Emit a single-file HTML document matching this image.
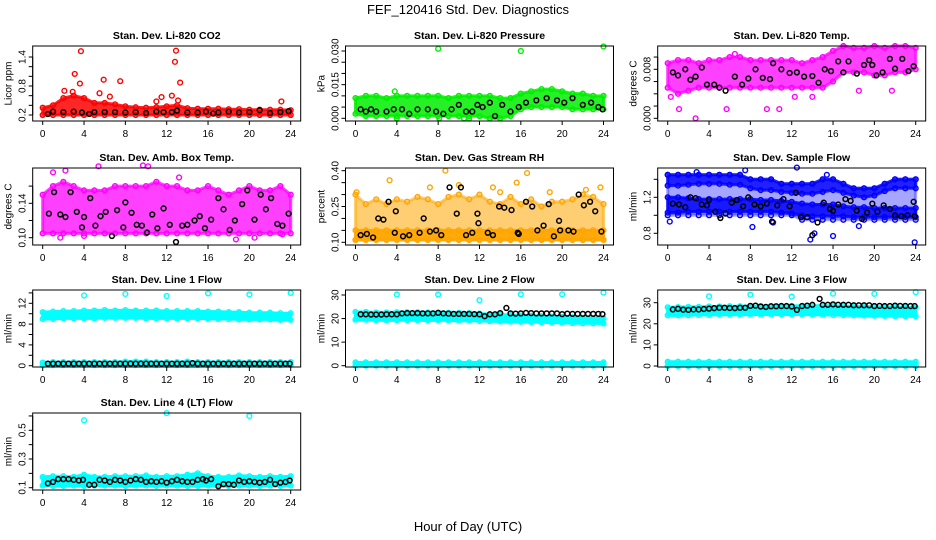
<!DOCTYPE html>
<html><head><meta charset="utf-8"><style>
html,body{margin:0;padding:0;background:#fff}
svg{display:block;font-family:"Liberation Sans",sans-serif}
</style></head><body>
<svg id="chart" width="936" height="540" viewBox="0 0 936 540" xmlns="http://www.w3.org/2000/svg">
<text x="468" y="14" text-anchor="middle" font-size="13">FEF_120416  Std. Dev. Diagnostics</text>
<text x="468" y="531" text-anchor="middle" font-size="13">Hour of Day (UTC)</text>
</svg>
<script>
const hours = [0,1,2,3,4,5,6,7,8,9,10,11,12,13,14,15,16,17,18,19,20,21,22,23,24];
const xTicks = [0,4,8,12,16,20,24];
// CO2
const co2Lo = [0.2,0.2,0.2,0.2,0.2,0.2,0.2,0.2,0.2,0.2,0.2,0.2,0.2,0.2,0.2,0.2,0.2,0.2,0.2,0.2,0.2,0.2,0.2,0.2,0.2];
const co2Hi = [0.35,0.4,0.55,0.6,0.55,0.45,0.45,0.42,0.38,0.36,0.35,0.36,0.38,0.4,0.34,0.33,0.33,0.33,0.32,0.32,0.31,0.31,0.31,0.31,0.3];
const co2OutX = [3.7,12.9,12.8,3.1,5.9,7.5,13.3,2.1,3.6,5.5,6.5,12.5,11.5,11,23.1,13.1,2.9];
const co2OutY = [1.52,1.53,1.3,1.05,0.93,0.9,0.87,0.7,0.85,0.65,0.58,0.6,0.57,0.48,0.48,0.5,0.68];
const co2BlkX = [0.5,1,2,3,3.8,4.5,5,6,7,8,9,10,11,11.7,12.5,13,14,15,15.8,16.5,17,18,19,20,21,22,23,23.8];
const co2BlkY = [0.22,0.27,0.26,0.27,0.25,0.22,0.26,0.26,0.26,0.25,0.26,0.24,0.27,0.26,0.26,0.29,0.25,0.25,0.27,0.23,0.25,0.27,0.25,0.26,0.3,0.24,0.26,0.28];
// Pressure
const prLo = [0.002,0.001,0.001,0.001,0.001,0.001,0.001,0.001,0.001,0.001,0.001,0.001,0.001,0.0,0.0,0.001,0.004,0.005,0.005,0.005,0.005,0.004,0.004,0.004,0.004];
const prHi = [0.009,0.010,0.010,0.009,0.010,0.010,0.010,0.010,0.010,0.009,0.010,0.010,0.010,0.010,0.009,0.009,0.011,0.012,0.013,0.013,0.012,0.011,0.011,0.010,0.010];
const prOutX = [8,16,24,3.8,4,8.1,10.5,11];
const prOutY = [0.031,0.030,0.032,0.012,0,0,0,0];
const prBlkX = [0.5,1,1.5,2,3,3.7,4.5,5.2,6,7,7.8,8.5,9.3,10,10.7,11.3,11.8,12.3,13,13.5,14.2,15,15.8,16.5,17.5,18.5,19.5,20.2,21,22,22.8,23.5,23.9];
const prBlkY = [0.004,0.003,0.004,0.003,0.003,0.004,0.004,0.002,0.004,0.004,0.003,0.002,0.004,0.006,0.003,0.003,0.006,0.005,0.007,0.001,0.006,0.003,0.005,0.007,0.008,0.009,0.008,0.007,0.009,0.006,0.007,0.005,0.004];
// Li-820 temp
const ltLo = [0.005,0.004,0.0045,0.005,0.005,0.005,0.005,0.005,0.005,0.005,0.005,0.005,0.005,0.005,0.005,0.005,0.006,0.0075,0.0075,0.0075,0.007,0.007,0.0075,0.0075,0.008];
const ltHi = [0.009,0.0095,0.0095,0.009,0.0095,0.0095,0.01,0.01,0.0095,0.0095,0.0095,0.0095,0.0095,0.009,0.0095,0.01,0.011,0.0118,0.0115,0.0115,0.0118,0.0115,0.0118,0.0118,0.0115];
const ltOutX = [2.7,1.1,5.7,9.6,10.8,0.3,6.5,12.3,14,18.5,21.7];
const ltOutY = [0,0.0015,0.0015,0.0015,0.0015,0.0035,0.0105,0.0035,0.0035,0.0045,0.0045];
const ltBlkX = [0.5,1,1.7,2.2,2.7,3.3,3.8,4.5,5,5.6,6.5,7.2,7.8,8.5,9.2,9.9,10.2,11,11.8,12.5,13.2,14,14.6,15.2,15.8,16.5,17,17.5,18.3,19,19.5,19.8,20.2,20.8,21.5,22,22.7,23.3,23.8];
const ltBlkY = [0.0075,0.007,0.008,0.0063,0.0068,0.0083,0.0055,0.0055,0.005,0.0045,0.0068,0.0055,0.0065,0.008,0.0066,0.0064,0.009,0.008,0.0074,0.0075,0.0068,0.0069,0.0058,0.008,0.0077,0.0093,0.0075,0.0093,0.0073,0.0087,0.0095,0.0087,0.007,0.0075,0.0097,0.0081,0.0097,0.0077,0.0085];
// Amb box temp
const abLo = [0.105,0.105,0.105,0.105,0.105,0.105,0.105,0.105,0.105,0.105,0.105,0.105,0.105,0.105,0.105,0.105,0.105,0.105,0.105,0.105,0.105,0.105,0.105,0.105,0.105];
const abHi = [0.15,0.16,0.165,0.16,0.155,0.155,0.155,0.16,0.16,0.16,0.16,0.165,0.16,0.16,0.155,0.155,0.16,0.155,0.15,0.155,0.16,0.155,0.155,0.16,0.15];
const abOutX = [1,2.2,5.4,9.7,10.2,1.7,4,13.2,18.7,20.5,23.2];
const abOutY = [0.176,0.178,0.183,0.184,0.183,0.10,0.102,0.17,0.098,0.1,0.104];
const abBlkX = [0.6,1.1,1.7,2.2,2.7,3.3,3.8,4,4.6,5.1,5.6,6.1,6.7,7.2,7.8,8,8.6,9.1,9.6,10.1,10.6,11.1,11.7,12.3,12.9,13.5,14,14.7,15.2,15.7,16.3,17,17.5,18.1,18.6,19.3,19.8,20.5,21.1,21.6,22.1,22.7,23.2,23.8];
const abBlkY = [0.128,0.153,0.127,0.124,0.153,0.13,0.112,0.124,0.146,0.114,0.125,0.13,0.102,0.132,0.112,0.141,0.129,0.115,0.114,0.106,0.127,0.111,0.134,0.115,0.095,0.114,0.115,0.12,0.125,0.111,0.121,0.146,0.133,0.109,0.12,0.139,0.155,0.121,0.15,0.133,0.146,0.116,0.114,0.128];
// Gas stream RH
const rhLo = [0.11,0.11,0.11,0.11,0.11,0.11,0.11,0.11,0.11,0.11,0.11,0.11,0.11,0.11,0.11,0.11,0.11,0.11,0.11,0.11,0.11,0.11,0.11,0.11,0.11];
const rhMid = [0.15,0.15,0.15,0.15,0.15,0.15,0.15,0.15,0.15,0.15,0.15,0.15,0.15,0.15,0.15,0.15,0.15,0.15,0.15,0.15,0.15,0.15,0.15,0.15,0.15];
const rhHi = [0.3,0.26,0.28,0.26,0.28,0.27,0.29,0.28,0.26,0.29,0.3,0.28,0.3,0.27,0.26,0.29,0.26,0.28,0.25,0.27,0.27,0.28,0.3,0.29,0.26];
const rhOutX = [3.3,8.7,16.6,10,13.3,15.6,0.1,7.2,14,18.8,22.3,23.7];
const rhOutY = [0.36,0.40,0.39,0.34,0.33,0.35,0.31,0.33,0.31,0.31,0.32,0.33];
const rhBlkX = [0.5,1.1,1.7,2.2,2.7,3.2,3.8,3.9,4.6,5.2,6.2,6.6,7.2,7.8,8.3,9.1,9.8,10.2,10.7,11.3,11.8,11.9,12.8,13.3,13.9,14.4,15.1,15.7,15.8,16.5,17.1,17.6,18.2,18.7,19.2,19.7,19.8,20.6,21.1,21.6,22.1,22.7,23.2,23.8];
const rhBlkY = [0.13,0.135,0.12,0.2,0.195,0.27,0.14,0.23,0.125,0.13,0.14,0.2,0.145,0.15,0.13,0.33,0.22,0.33,0.13,0.14,0.22,0.18,0.14,0.13,0.25,0.245,0.235,0.14,0.135,0.27,0.25,0.15,0.17,0.26,0.125,0.19,0.15,0.15,0.145,0.3,0.255,0.27,0.23,0.145];
// Sample flow
const sfLo = [1.0,1.0,1.0,1.0,1.0,1.0,1.0,1.0,1.0,1.0,1.0,1.0,1.0,0.95,0.95,0.95,0.95,0.95,0.95,0.95,0.95,0.95,0.95,0.95,0.95];
const sfHi = [1.45,1.45,1.45,1.45,1.45,1.45,1.45,1.45,1.4,1.4,1.4,1.35,1.35,1.35,1.35,1.4,1.4,1.35,1.3,1.3,1.3,1.35,1.4,1.4,1.4];
const sfUpLo = [1.33,1.33,1.34,1.35,1.35,1.35,1.34,1.34,1.3,1.28,1.28,1.26,1.25,1.24,1.24,1.26,1.28,1.25,1.22,1.2,1.22,1.27,1.3,1.3,1.3];
const sfDenseLo = [1.03,1.03,1.04,1.04,1.04,1.04,1.04,1.04,1.04,1.04,1.04,1.03,1.02,1.0,0.99,0.99,0.99,0.99,0.98,0.98,0.98,0.98,0.98,0.98,0.98];
const sfDenseHi = [1.2,1.2,1.19,1.18,1.18,1.18,1.18,1.18,1.18,1.17,1.17,1.16,1.15,1.13,1.12,1.12,1.12,1.1,1.09,1.09,1.08,1.08,1.08,1.08,1.08];
const sfOutX = [0.2,7.5,12.5,13.8,14.2,16,23.9,8.2,2.8,10.2,15.4,18.5];
const sfOutY = [0.93,1.5,1.53,0.73,0.8,0.77,0.7,0.87,1.48,0.92,1.45,0.88];
const sfBlkX = [0.5,1.1,1.7,2.2,2.7,3.3,3.8,4,4.6,5.1,5.6,6.2,6.7,7.3,7.8,8.4,9,9.6,10.1,10.6,11.2,11.8,12.4,12.9,13.5,14,14.5,15.1,15.7,16,16.5,17.2,17.7,18.3,18.8,19.3,19.8,20.3,20.9,21.5,22,22.6,23.2,23.8,23.9];
const sfBlkY = [1.13,1.12,1.09,1.2,1.19,1.12,1.11,1.17,1.04,0.97,1.02,1.14,1.17,1.1,1.2,1.12,1.1,1.13,0.93,1.11,1.18,1.1,1.25,0.98,0.98,0.78,0.92,1.14,1.07,1.05,1.12,1.18,1.16,1.05,0.96,1.03,1.13,1.04,1.11,1.07,1.0,0.99,1.0,1.15,0.99];
// Line 1
const l1Lo = [9.0,9.0,9.1,9.1,9.1,9.1,9.2,9.2,9.2,9.2,9.1,9.1,9.1,9.1,9.1,9.1,9.0,9.0,9.0,8.9,8.9,8.9,8.9,8.8,8.8];
const l1Hi = [10.3,10.4,10.5,10.5,10.6,10.6,10.7,10.6,10.7,10.6,10.6,10.6,10.5,10.5,10.5,10.5,10.4,10.4,10.3,10.3,10.2,10.2,10.2,10.1,10.1];
const l1ZLo = [0.1,0.1,0.1,0.1,0.1,0.1,0.1,0.1,0.1,0.1,0.1,0.1,0.1,0.1,0.1,0.1,0.1,0.1,0.1,0.1,0.1,0.1,0.1,0.1,0.1];
const l1ZHi = [0.6,0.7,0.7,0.7,0.7,0.7,0.7,0.7,0.8,0.8,0.8,0.7,0.7,0.7,0.8,0.7,0.7,0.7,0.7,0.7,0.7,0.7,0.7,0.7,0.7];
const l1OutX = [4,8,12,16,20,24];
const l1OutY = [13.5,13.8,13.4,13.9,13.7,14.0];
const l1BlkX = [0.5,1,1.5,2,2.5,3,3.5,4,4.5,5,5.5,6,6.5,7,7.5,8,8.5,9,9.5,10,10.5,11,11.5,12,12.5,13,13.5,14,14.5,15,15.5,16,16.5,17,17.5,18,18.5,19,19.5,20,20.5,21,21.5,22,22.5,23,23.5,23.9];
const l1BlkY = [0.4,0.4,0.4,0.4,0.4,0.4,0.4,0.4,0.4,0.4,0.4,0.4,0.4,0.4,0.4,0.4,0.4,0.4,0.4,0.4,0.4,0.4,0.4,0.4,0.4,0.4,0.4,0.4,0.5,0.4,0.4,0.4,0.4,0.4,0.4,0.4,0.4,0.4,0.4,0.4,0.4,0.4,0.4,0.4,0.4,0.4,0.4,0.4];
// Line 2
const l2Lo = [19.5,19.5,19.3,19.2,19.3,19.3,19.3,19.2,19.3,19.2,19.1,19.1,19,18.9,18.8,18.7,18.6,18.5,18.4,18.3,18.2,18.1,18,18,17.9];
const l2Hi = [22.8,22.8,22.6,22.6,22.7,22.7,22.7,22.6,22.6,22.5,22.4,22.3,22.1,21.9,21.7,21.5,21.3,21.2,21,20.8,20.6,20.5,20.3,20.2,20.1];
const l2ZLo = [0,0,0,0,0,0,0,0,0,0,0,0,0,0,0,0,0,0,0,0,0,0,0,0,0];
const l2ZHi = [1.4,1.4,1.4,1.4,1.4,1.4,1.4,1.4,1.4,1.4,1.4,1.4,1.4,1.4,1.4,1.4,1.4,1.4,1.4,1.4,1.4,1.4,1.4,1.4,1.4];
const l2OutX = [4,8,12,16,20,24];
const l2OutY = [30.2,30.2,27.8,30.3,30.3,31];
const l2BlkX = [0.5,1,1.5,2,2.5,3,3.5,4,4.5,5,5.5,6,6.5,7,7.5,8,8.5,9,9.5,10,10.5,11,11.5,12,12.5,13,13.5,14,14.6,15,15.5,16,16.5,17,17.5,18,18.5,19,19.5,20,20.5,21,21.5,22,22.5,23,23.5,23.9];
const l2BlkY = [21.8,21.8,21.7,21.7,21.7,21.8,21.8,21.8,22.2,22.3,22.3,22.3,22.2,22.2,22.2,22.4,22.2,22.1,22,22,22,22,21.9,21.8,21,21.8,21.8,22.3,24.5,22.2,22.1,22.2,22.4,22.3,22.2,22.2,22.2,22.2,22.2,21.9,22.1,22,22,22,22,22,22,21.9];
// Line 3
const l3Lo = [24,24,24.1,24.2,24.2,24.3,24.3,24.3,24.4,24.4,24.4,24.4,24.4,24.4,24.3,24.3,24.2,24.1,24,23.9,23.8,23.7,23.6,23.5,23.5];
const l3Hi = [27.8,27.9,28,28,28.2,28.2,28.3,28.3,28.4,28.4,28.4,28.5,28.5,28.5,28.6,28.6,28.5,28.4,28.3,28.2,28.1,28,27.9,27.8,27.7];
const l3ZLo = [0,0,0,0,0,0,0,0,0,0,0,0,0,0,0,0,0,0,0,0,0,0,0,0,0];
const l3ZHi = [2,2,2,2,2,2,2,2,2,2,2,2,2,2,2,2,2,2,2,2,2,2,2,2,2];
const l3OutX = [4,8,12,16,20,24];
const l3OutY = [33,33.8,32.9,34.3,34.2,35];
const l3BlkX = [0.5,1,1.5,2,2.5,3,3.5,4,4.5,5,5.5,6,6.5,7,7.5,8,8.5,9,9.5,10,10.5,11,11.5,12,12.5,13,13.5,14,14.7,15,15.5,16,16.5,17,17.5,18,18.5,19,19.5,20,20.5,21,21.5,22,22.5,23,23.5,23.9];
const l3BlkY = [26.8,27.1,26.7,26.6,26.8,26.8,27,27.2,27.4,27.6,27.6,27.5,27.4,27.6,27.6,28.5,28.6,28.2,28,28.3,28.3,28.4,28.4,28.2,26.6,28.4,28.6,29,31.8,29,29,29.2,29,29,29,28.8,28.8,28.8,28.8,28.4,28.5,28.4,28.4,28.6,28.5,28.5,28.4,28.4];
// Line 4
const l4Lo = [0.115,0.112,0.112,0.115,0.112,0.115,0.115,0.115,0.112,0.115,0.115,0.112,0.115,0.115,0.112,0.112,0.115,0.112,0.112,0.115,0.115,0.112,0.115,0.112,0.115];
const l4Hi = [0.175,0.18,0.18,0.175,0.19,0.175,0.175,0.18,0.18,0.18,0.185,0.175,0.18,0.18,0.19,0.2,0.18,0.175,0.175,0.185,0.18,0.175,0.18,0.175,0.18];
const l4OutX = [4,12,20];
const l4OutY = [0.57,0.62,0.6];
const l4BlkX = [0.5,1,1.5,2,2.5,3,3.5,3.9,4.5,5,5.5,6,6.5,7,7.5,8,8.5,9,9.5,10,10.5,11,11.5,12,12.5,13,13.5,14,14.5,15,15.5,15.8,16.3,17,17.5,18,18.5,19,19.5,20,20.5,21,21.5,22,22.5,23,23.5,23.9];
const l4BlkY = [0.13,0.14,0.16,0.16,0.16,0.155,0.15,0.155,0.12,0.12,0.155,0.15,0.14,0.155,0.15,0.14,0.15,0.16,0.155,0.14,0.145,0.14,0.145,0.135,0.145,0.155,0.145,0.14,0.14,0.155,0.16,0.15,0.16,0.11,0.125,0.125,0.12,0.15,0.14,0.145,0.14,0.135,0.14,0.155,0.125,0.135,0.14,0.15];

const svg = document.getElementById('chart');
const NS = 'http://www.w3.org/2000/svg';
const colX0 = [42.7, 355.5, 667.7];
const rowTop = [46, 168, 290, 413];
const rowBot = [121, 245, 367, 490];
const PXH = 248 / 24;

function mk(tag, attrs, parent) {
  const e = document.createElementNS(NS, tag);
  for (const k in attrs) e.setAttribute(k, attrs[k]);
  (parent || svg).appendChild(e);
  return e;
}

const panels = [
  {key:'co2', title:'Stan. Dev. Li-820 CO2', ylab:'Licor ppm', c:0, r:0, cal:[0.2,115,1.4,57], ticks:[0.2,0.4,0.6,0.8,1.0,1.2,1.4], labels:['0.2','0.8','1.4'], col:'#ff0000',
    bands:[[co2Lo,co2Hi,0.85]], outX:co2OutX, outY:co2OutY, bx:co2BlkX, by:co2BlkY},
  {key:'pressure', title:'Stan. Dev. Li-820 Pressure', ylab:'kPa', c:1, r:0, cal:[0,118.3,0.03,51], ticks:[0,0.005,0.01,0.015,0.02,0.025,0.03], labels:['0.000','0.015','0.030'], col:'#00ee00',
    bands:[[prLo,prHi,0.85]], outX:prOutX, outY:prOutY, bx:prBlkX, by:prBlkY},
  {key:'li-temp', title:'Stan. Dev. Li-820 Temp.', ylab:'degrees C', c:2, r:0, cal:[0,118.3,0.008,69.3], ticks:[0,0.002,0.004,0.006,0.008,0.010], labels:['0.000','0.008'], col:'#ff00ff',
    bands:[[ltLo,ltHi,0.75]], outX:ltOutX, outY:ltOutY, bx:ltBlkX, by:ltBlkY},
  {key:'amb-temp', title:'Stan. Dev. Amb. Box Temp.', ylab:'degrees C', c:0, r:1, cal:[0.10,237.7,0.14,203.3], ticks:[0.10,0.12,0.14,0.16], labels:['0.10','0.14'], col:'#ff00ff',
    bands:[[abLo,abHi,0.75]], outX:abOutX, outY:abOutY, bx:abBlkX, by:abBlkY},
  {key:'rh', title:'Stan. Dev. Gas Stream RH', ylab:'percent', c:1, r:1, cal:[0.10,242.3,0.40,170.7], ticks:[0.10,0.15,0.20,0.25,0.30,0.35,0.40], labels:['0.10','0.25','0.40'], col:'#ffa500',
    bands:[[rhLo,rhHi,0.55],[rhLo,rhMid,0.9]], outX:rhOutX, outY:rhOutY, bx:rhBlkX, by:rhBlkY},
  {key:'sample-flow', title:'Stan. Dev. Sample Flow', ylab:'ml/min', c:2, r:1, cal:[0.8,233.3,1.2,197.3], ticks:[0.8,1.0,1.2,1.4], labels:['0.8','1.2'], col:'#0000ff',
    bands:[[sfLo,sfHi,0.35],[sfUpLo,sfHi,0.8],[sfDenseLo,sfDenseHi,0.85]], outX:sfOutX, outY:sfOutY, bx:sfBlkX, by:sfBlkY},
  {key:'line1', title:'Stan. Dev. Line 1 Flow', ylab:'ml/min', c:0, r:2, cal:[0,365.7,12,303.3], ticks:[0,2,4,6,8,10,12,14], labels:['0','4','8','12'], col:'#00ffff',
    bands:[[l1Lo,l1Hi],[l1ZLo,l1ZHi]], outX:l1OutX, outY:l1OutY, bx:l1BlkX, by:l1BlkY},
  {key:'line2', title:'Stan. Dev. Line 2 Flow', ylab:'ml/min', c:1, r:2, cal:[0,365.7,30,295], ticks:[0,10,20,30], labels:['0','10','20','30'], col:'#00ffff',
    bands:[[l2Lo,l2Hi],[l2ZLo,l2ZHi]], outX:l2OutX, outY:l2OutY, bx:l2BlkX, by:l2BlkY},
  {key:'line3', title:'Stan. Dev. Line 3 Flow', ylab:'ml/min', c:2, r:2, cal:[0,366,30,302.7], ticks:[0,10,20,30], labels:['0','10','20','30'], col:'#00ffff',
    bands:[[l3Lo,l3Hi],[l3ZLo,l3ZHi]], outX:l3OutX, outY:l3OutY, bx:l3BlkX, by:l3BlkY},
  {key:'line4', title:'Stan. Dev. Line 4 (LT) Flow', ylab:'ml/min', c:0, r:3, cal:[0.1,487.7,0.5,430.3], ticks:[0.1,0.2,0.3,0.4,0.5,0.6], labels:['0.1','0.3','0.5'], col:'#00ffff',
    bands:[[l4Lo,l4Hi]], outX:l4OutX, outY:l4OutY, bx:l4BlkX, by:l4BlkY}
];

function fmtMatch(v, labels) {
  for (const l of labels) if (Math.abs(parseFloat(l) - v) < 1e-9) return l;
  return null;
}

panels.forEach(p => {
  const x0 = colX0[p.c];
  const top = rowTop[p.r], bot = rowBot[p.r];
  const left = x0 - 10, right = x0 + 258;
  const xs = h => x0 + h * PXH;
  const [v1, y1, v2, y2] = p.cal;
  const ys = v => y1 + (v - v1) * (y2 - y1) / (v2 - v1);
  const g = mk('g', {});
  
  

  const t = mk('text', {x: (left + right) / 2, y: top - 7, 'text-anchor': 'middle', 'font-size': '10.5', 'font-weight': 'bold'}, g);
  t.textContent = p.title;
  
  

  p.bands.forEach(b => {
    const lo = b[0], hi = b[1], op = b[2] || 1;
    let d = '';
    hours.forEach((h, i) => { d += (i ? 'L' : 'M') + xs(h).toFixed(1) + ',' + ys(hi[i]).toFixed(1); });
    for (let i = hours.length - 1; i >= 0; i--) d += 'L' + xs(hours[i]).toFixed(1) + ',' + ys(lo[i]).toFixed(1);
    const band = mk('path', {d: d + 'Z', fill: p.col, 'fill-opacity': op, stroke: p.col, 'stroke-width': '3', 'stroke-opacity': op}, g);
    
    
    hours.forEach((h, i) => {
      [lo[i], hi[i]].forEach(v => {
        const c = mk('circle', {cx: xs(h), cy: ys(v), r: 2.4, fill: 'none', stroke: p.col, 'stroke-width': 1.4}, g);
        
        
      });
    });
  });
  p.outX.forEach((h, i) => {
    const c = mk('circle', {cx: xs(h), cy: ys(p.outY[i]), r: 2.4, fill: 'none', stroke: p.col, 'stroke-width': 1.4}, g);
    
    
  });
  p.bx.forEach((h, i) => {
    const c = mk('circle', {cx: xs(h), cy: ys(p.by[i]), r: 2.4, fill: 'none', stroke: '#000', 'stroke-width': 1.5}, g);
    
    
  });

  const box = mk('rect', {x: left, y: top, width: right - left, height: bot - top, fill: 'none', stroke: '#000', 'stroke-width': 1}, g);
  
  

  const xa = mk('g', {}, g);
  
  
  mk('line', {x1: xs(0), x2: xs(24), y1: bot, y2: bot, stroke: '#000'}, xa);
  xTicks.forEach(v => {
    mk('line', {x1: xs(v), x2: xs(v), y1: bot, y2: bot + 4, stroke: '#000'}, xa);
    const l = mk('text', {x: xs(v), y: bot + 16, 'text-anchor': 'middle', 'font-size': '10'}, xa);
    l.textContent = v;
  });
  const ya = mk('g', {}, g);
  
  
  const tk = p.ticks;
  mk('line', {x1: left, x2: left, y1: ys(tk[0]), y2: ys(tk[tk.length - 1]), stroke: '#000'}, ya);
  tk.forEach(v => {
    mk('line', {x1: left - 4, x2: left, y1: ys(v), y2: ys(v), stroke: '#000'}, ya);
    const lab = fmtMatch(v, p.labels);
    if (lab) {
      const l = mk('text', {x: left - 7, y: ys(v), 'text-anchor': 'middle', 'font-size': '10', transform: `rotate(-90 ${left - 7} ${ys(v)})`}, ya);
      l.textContent = lab;
    }
  });
  const yt = mk('text', {x: left - 21, y: (top + bot) / 2, 'text-anchor': 'middle', 'font-size': '10', transform: `rotate(-90 ${left - 21} ${(top + bot) / 2})`}, g);
  yt.textContent = p.ylab;
  
  
});
</script>
</body></html>
